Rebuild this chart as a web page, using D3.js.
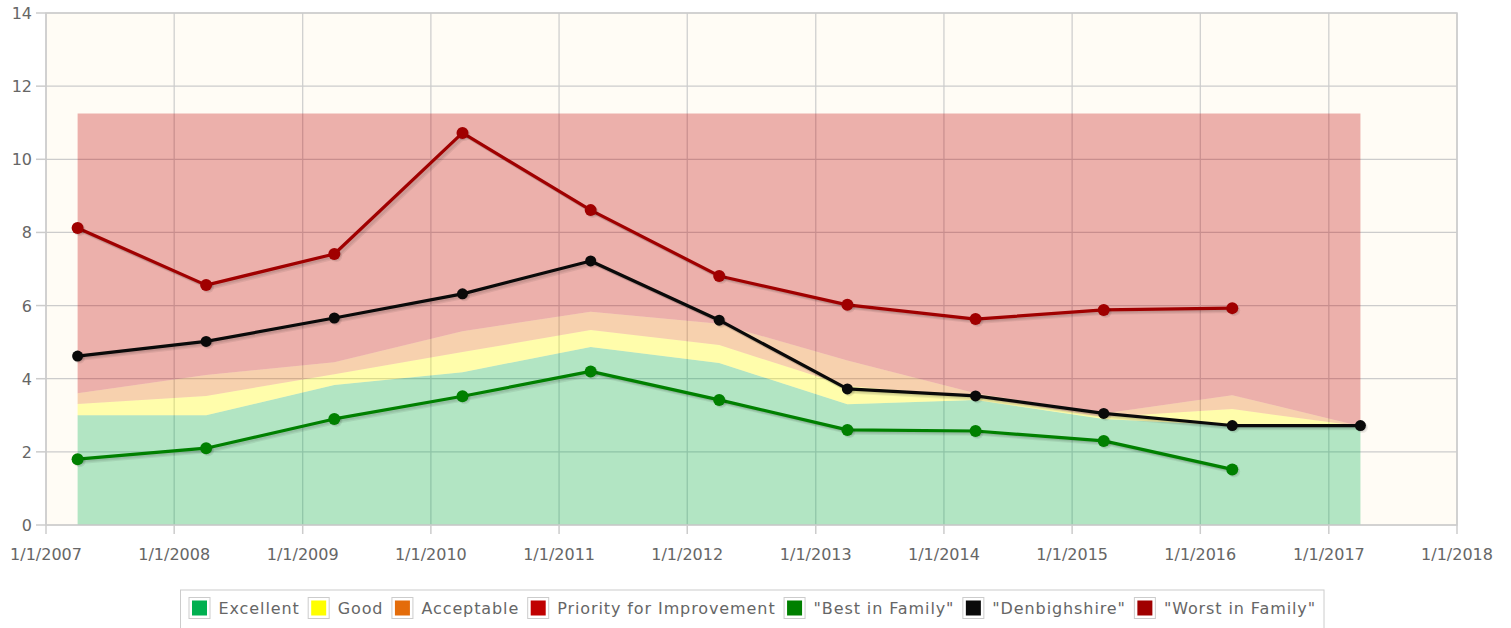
<!DOCTYPE html>
<html>
<head>
<meta charset="utf-8">
<script src="https://d3js.org/d3.v7.min.js"></script>
<style>
body { margin: 0; background: #fff; }
text { font-family: "DejaVu Sans", sans-serif; fill: #666; }
</style>
</head>
<body>
<svg id="chart" width="1511" height="628"></svg>
<script>
// one point per year, April 1st
var years = [2007, 2008, 2009, 2010, 2011, 2012, 2013, 2014, 2015, 2016, 2017];
var excellent = [3.0, 3.0, 3.83, 4.18, 4.87, 4.43, 3.3, 3.42, 2.9, 2.72, 2.7];
var good = [3.31, 3.53, 4.12, 4.73, 5.33, 4.92, 3.8, 3.5, 2.95, 3.17, 2.7];
var acceptable = [3.6, 4.1, 4.45, 5.3, 5.83, 5.5, 4.5, 3.6, 3.05, 3.55, 2.7];
var priority = [11.25, 11.25, 11.25, 11.25, 11.25, 11.25, 11.25, 11.25, 11.25, 11.25, 11.25];
var bestInFamily = [1.8, 2.1, 2.9, 3.52, 4.2, 3.42, 2.6, 2.57, 2.3, 1.52];
var denbighshire = [4.62, 5.02, 5.66, 6.32, 7.22, 5.6, 3.72, 3.53, 3.05, 2.72, 2.72];
var worstInFamily = [8.12, 6.56, 7.41, 10.72, 8.61, 6.81, 6.02, 5.63, 5.88, 5.93];
var yTicks = [0, 2, 4, 6, 8, 10, 12, 14];
var xTickYears = [2007, 2008, 2009, 2010, 2011, 2012, 2013, 2014, 2015, 2016, 2017, 2018];

var svg = d3.select('#chart');
var pLeft = 46, pRight = 1457, pTop = 13, pBottom = 525;

var x = d3.scaleTime()
    .domain([new Date(2007, 0, 1), new Date(2018, 0, 1)])
    .range([pLeft, pRight]);
var y = d3.scaleLinear().domain([0, 14]).range([pBottom, pTop]);
var date = function(yr) { return new Date(yr, 3, 1); };

svg.append('rect')
    .attr('x', pLeft).attr('y', pTop)
    .attr('width', pRight - pLeft).attr('height', pBottom - pTop)
    .style('fill', '#fffcf5');

// grid
var grid = svg.append('g').style('stroke', '#cccccc').style('stroke-width', 1.2);
grid.selectAll('.h').data(yTicks).enter().append('line')
    .attr('x1', pLeft).attr('x2', pRight)
    .attr('y1', d => y(d)).attr('y2', d => y(d));
grid.selectAll('.v').data(xTickYears).enter().append('line')
    .attr('y1', pTop).attr('y2', pBottom)
    .attr('x1', d => x(new Date(d, 0, 1))).attr('x2', d => x(new Date(d, 0, 1)));

// bands
var bands = [
    {name: 'Excellent', color: '#00b050', lo: null, hi: excellent},
    {name: 'Good', color: '#ffff00', lo: excellent, hi: good},
    {name: 'Acceptable', color: '#e46c0a', lo: good, hi: acceptable},
    {name: 'Priority for Improvement', color: '#c00000', lo: acceptable, hi: priority}
];
bands.forEach(function(b) {
    var area = d3.area()
        .x((d, i) => x(date(years[i])))
        .y0((d, i) => b.lo ? y(b.lo[i]) : y(0))
        .y1(d => y(d));
    svg.append('path')
        .attr('d', area(b.hi))
        .style('fill', b.color)
        .style('fill-opacity', 0.3);
});

// lines
var series = [
    {name: '"Best in Family"', color: '#008000', values: bestInFamily, r: 6},
    {name: '"Denbighshire"', color: '#0a0a0a', values: denbighshire, r: 5.5},
    {name: '"Worst in Family"', color: '#a00000', values: worstInFamily, r: 6}
];
var line = d3.line().x((d, i) => x(date(years[i]))).y(d => y(d));
series.forEach(function(s) {
    var g = svg.append('g');
    for (var k = 1; k <= 3; k++) {
        g.append('path')
            .attr('d', line(s.values))
            .attr('transform', 'translate(' + (k * 1.1) + ',' + (k * 1.1) + ')')
            .style('fill', 'none').style('stroke', '#000')
            .style('stroke-opacity', 0.07).style('stroke-width', 3);
    }
    g.append('path')
        .attr('d', line(s.values))
        .style('fill', 'none').style('stroke', s.color)
        .style('stroke-width', 3.2).style('stroke-linejoin', 'round');
    s.values.forEach(function(v, i) {
        for (var k = 1; k <= 2; k++) {
            g.append('circle')
                .attr('cx', x(date(years[i])) + k).attr('cy', y(v) + k)
                .attr('r', s.r).style('fill', '#000').style('fill-opacity', 0.07);
        }
        g.append('circle')
            .attr('cx', x(date(years[i]))).attr('cy', y(v))
            .attr('r', s.r).style('fill', s.color);
    });
});

// border
svg.append('rect')
    .attr('x', pLeft).attr('y', pTop)
    .attr('width', pRight - pLeft).attr('height', pBottom - pTop)
    .style('fill', 'none').style('stroke', '#cccccc').style('stroke-width', 1.5);

// axes
var yAxis = svg.append('g');
yAxis.selectAll('line').data(yTicks).enter().append('line')
    .attr('x1', pLeft - 10).attr('x2', pLeft)
    .attr('y1', d => y(d)).attr('y2', d => y(d))
    .style('stroke', '#cccccc').style('stroke-width', 1.5);
yAxis.selectAll('text').data(yTicks).enter().append('text')
    .attr('x', pLeft - 14).attr('y', d => y(d) + 6)
    .attr('text-anchor', 'end').style('font-size', '16px')
    .text(d => d);

var xAxis = svg.append('g');
xAxis.selectAll('line').data(xTickYears).enter().append('line')
    .attr('x1', d => x(new Date(d, 0, 1))).attr('x2', d => x(new Date(d, 0, 1)))
    .attr('y1', pBottom).attr('y2', pBottom + 9)
    .style('stroke', '#cccccc').style('stroke-width', 1.5);
xAxis.selectAll('text').data(xTickYears).enter().append('text')
    .attr('x', d => x(new Date(d, 0, 1))).attr('y', 560)
    .attr('text-anchor', 'middle').style('font-size', '16px')
    .text(d => '1/1/' + d);

// legend
var legendItems = bands.map(b => ({name: b.name, color: b.color}))
    .concat(series.map(s => ({name: s.name, color: s.color})));
var legendBox = svg.append('rect');
var legend = svg.append('g');
var lx = 0;
var items = legend.selectAll('g').data(legendItems).enter().append('g');
items.append('rect')
    .attr('width', 21).attr('height', 21).attr('y', 597.5).attr('x', 0.5)
    .style('fill', '#fff').style('stroke', '#cccccc');
items.append('rect')
    .attr('width', 15).attr('height', 15).attr('y', 600.5)
    .attr('x', 3.5)
    .style('fill', d => d.color);
items.append('text')
    .attr('x', 30).attr('y', 614).style('font-size', '16px')
    .style('letter-spacing', '0.9px')
    .text(d => d.name);
items.each(function() {
    var g = d3.select(this);
    var w = g.select('text').node().getComputedTextLength();
    g.attr('transform', 'translate(' + lx + ',0)');
    lx += 30 + w + 8;
});
var legW = lx - 8 + 16;
var legX = Math.round((pLeft + pRight) / 2 - legW / 2) + 0.5;
legend.attr('transform', 'translate(' + (legX + 8) + ',0)');
legendBox
    .attr('x', legX).attr('y', 590)
    .attr('width', legW).attr('height', 45)
    .style('fill', '#fff').style('stroke', '#cccccc');
</script>
</body>
</html>
